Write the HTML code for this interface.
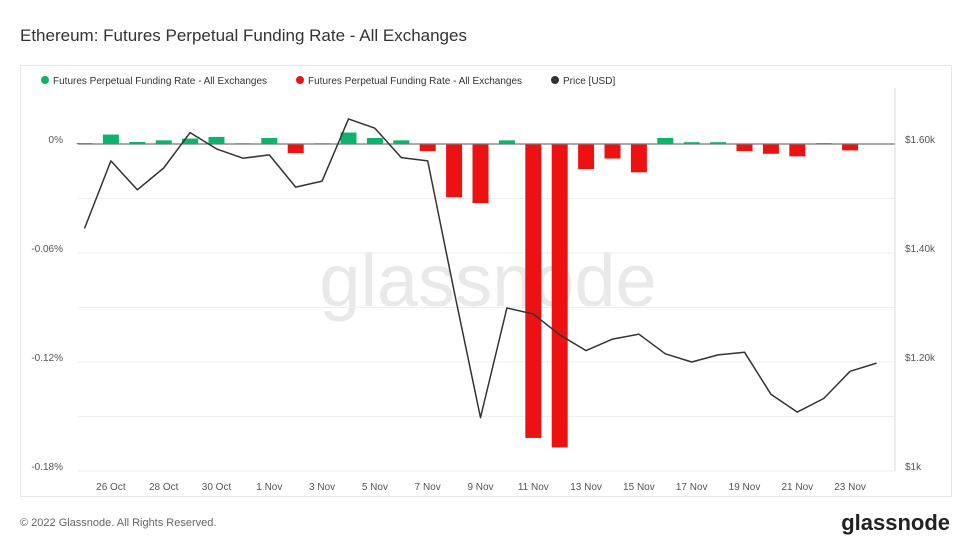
<!DOCTYPE html>
<html><head><meta charset="utf-8"><style>
body{margin:0;background:#fff;font-family:"Liberation Sans",sans-serif;}
svg{display:block}
</style></head><body>
<svg width="972" height="547" xmlns="http://www.w3.org/2000/svg">
<rect width="972" height="547" fill="#fff"/>
<text x="20" y="41" font-size="17" fill="#333">Ethereum: Futures Perpetual Funding Rate - All Exchanges</text>
<rect x="20.5" y="65.5" width="931" height="431" fill="none" stroke="#e6e6e6"/>
<g font-size="10" fill="#333">
<g><circle cx="45" cy="80" r="4" fill="#0bb36b"/><text x="53" y="84">Futures Perpetual Funding Rate - All Exchanges</text></g>
<g><circle cx="300" cy="80" r="4" fill="#ee1111"/><text x="308" y="84">Futures Perpetual Funding Rate - All Exchanges</text></g>
<g><circle cx="555" cy="80" r="4" fill="#333"/><text x="563" y="84">Price [USD]</text></g>
</g>
<text x="488" y="306" font-size="74" fill="#e9e9e9" text-anchor="middle">glassnode</text>
<g id="grid"></g><g id="bars"></g><g id="line"></g><g id="axes"></g>
<text x="20" y="526" font-size="11" fill="#666">© 2022 Glassnode. All Rights Reserved.</text>
<text x="950" y="530" font-size="22" fill="#222" text-anchor="end" font-weight="bold">glassnode</text>
</svg>
<script>
const dates=["25 Oct","26 Oct","27 Oct","28 Oct","29 Oct","30 Oct","31 Oct","1 Nov","2 Nov","3 Nov","4 Nov","5 Nov","6 Nov","7 Nov","8 Nov","9 Nov","10 Nov","11 Nov","12 Nov","13 Nov","14 Nov","15 Nov","16 Nov","17 Nov","18 Nov","19 Nov","20 Nov","21 Nov","22 Nov","23 Nov","24 Nov"];
const funding=[0.0005,0.0052,0.0011,0.002,0.003,0.0039,0.0004,0.0033,-0.005,0.0004,0.0063,0.0033,0.002,-0.0039,-0.0293,-0.0325,0.002,-0.1618,-0.167,-0.0138,-0.008,-0.0156,0.0033,0.001,0.001,-0.0039,-0.0054,-0.0068,0.0005,-0.0035,null];
const price=[1445,1569,1516,1556,1621,1591,1574,1580,1521,1532,1646,1629,1575,1569,1330,1098,1299,1288,1250,1221,1242,1251,1215,1200,1213,1218,1141,1108,1133,1183,1198];
const leftTicks=[0,-0.06,-0.12,-0.18];
const leftTickLabels=["0%","-0.06%","-0.12%","-0.18%"];
const rightTicks=[1600,1400,1200,1000];
const rightTickLabels=["$1.60k","$1.40k","$1.20k","$1k"];
const xTickIdx=[1,3,5,7,9,11,13,15,17,19,21,23,25,27,29];

const NS="http://www.w3.org/2000/svg";
const X0=78,X1=895,Y0=144,Y1=471;
const xs=i=>84.5+i*26.4;
const yL=v=>Y0+(-v)/0.18*(Y1-Y0);
const yR=p=>Y1-(p-1000)/600*(Y1-Y0);
function mk(tag,attrs,parent){const e=document.createElementNS(NS,tag);for(const k in attrs)e.setAttribute(k,attrs[k]);parent.appendChild(e);return e;}
const grid=document.getElementById('grid'),bars=document.getElementById('bars'),line=document.getElementById('line'),axes=document.getElementById('axes');
for(let k=0;k<7;k++){const v=-0.03*k;const g=mk('line',{x1:X0,x2:X1,y1:yL(v),y2:yL(v),stroke:'#eeeeee'},grid);

}
leftTicks.forEach((v,i)=>{const t=mk('text',{x:63,y:yL(v)-1,'font-size':10,fill:'#555','text-anchor':'end'},axes);t.textContent=leftTickLabels[i];

});
rightTicks.forEach((v,i)=>{const t=mk('text',{x:905,y:yR(v)-1,'font-size':10,fill:'#555'},axes);t.textContent=rightTickLabels[i];

});
xTickIdx.forEach(i=>{const t=mk('text',{x:xs(i),y:490,'font-size':10,fill:'#555','text-anchor':'middle'},axes);t.textContent=dates[i];

});
const ra=mk('line',{x1:X1,x2:X1,y1:88,y2:Y1,stroke:'#ddd'},axes);


funding.forEach((v,i)=>{if(v===null)return;const y=yL(v);const top=Math.min(y,Y0),h=Math.max(Math.abs(y-Y0),1);
const r=mk('rect',{x:xs(i)-8,y:top,width:16,height:h,fill:v>=0?'#0bb36b':'#ee1111'},bars);

});
const zl=mk('line',{x1:X0,x2:X1,y1:Y0,y2:Y0,stroke:'#777','stroke-width':1.2},bars);


const pts=price.map((p,i)=>xs(i).toFixed(1)+','+yR(p).toFixed(1)).join(' ');
const pl=mk('polyline',{points:pts,fill:'none',stroke:'#333','stroke-width':1.5,'stroke-linejoin':'round'},line);


</script>
</body></html>
